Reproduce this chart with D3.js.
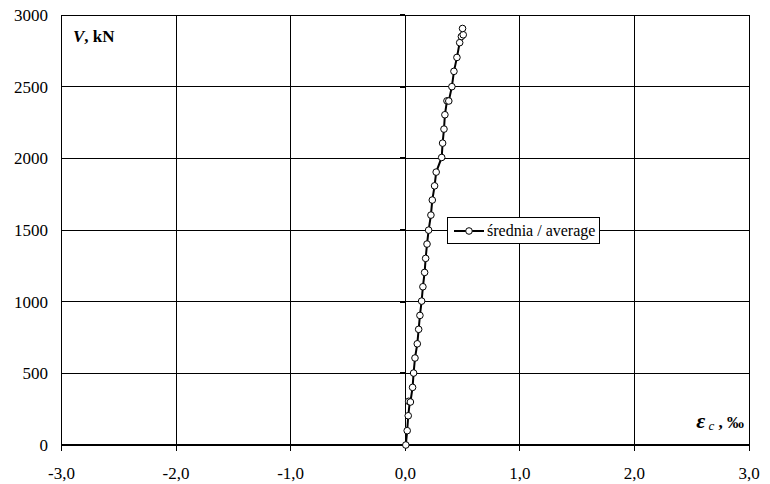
<!DOCTYPE html>
<html><head><meta charset="utf-8">
<script src="https://cdn.jsdelivr.net/npm/d3@7"></script>
<style>body{margin:0;background:#fff}svg{display:block}</style>
</head><body><svg id="c" width="770" height="484" font-family="'Liberation Serif', 'Times New Roman', Times, 'DejaVu Serif', serif"></svg>
<script>
const strain = [0.005,0.017,0.026,0.040,0.030,0.045,0.064,0.073,0.085,0.105,0.117,0.128,0.143,0.154,0.169,0.178,0.190,0.204,0.224,0.236,0.256,0.270,0.318,0.326,0.338,0.346,0.364,0.380,0.407,0.425,0.451,0.475,0.490,0.506,0.500];
const load   = [0,100,204,302,305,300,402,502,607,706,807,904,1004,1104,1204,1302,1402,1499,1604,1709,1808,1904,2006,2106,2204,2304,2401,2400,2500,2607,2704,2807,2850,2862,2906];
const xTicks = [-3,-2,-1,0,1,2,3];
const yTicks = [0,500,1000,1500,2000,2500,3000];
const seriesName = "średnia / average";

const svg = d3.select("#c");
const L=61.5,R=749,T=15,B=445;
const x = d3.scaleLinear().domain([-3,3]).range([L,R]);
const y = d3.scaleLinear().domain([0,3000]).range([B,T]);
const fmt = v => d3.format(".1f")(v).replace(".",",").replace("\u2212","-");

// grid
svg.append("g").selectAll("line").data(xTicks).join("line")
 .attr("x1",d=>x(d)).attr("x2",d=>x(d)).attr("y1",T).attr("y2",B)
 .attr("stroke","#000").attr("stroke-width",1).attr("shape-rendering","crispEdges");
svg.append("g").selectAll("line").data(yTicks).join("line")
 .attr("x1",L).attr("x2",R).attr("y1",d=>y(d)).attr("y2",d=>y(d))
 .attr("stroke","#000").attr("stroke-width",1).attr("shape-rendering","crispEdges");
// bottom axis thicker
svg.append("line").attr("x1",L).attr("x2",R).attr("y1",B).attr("y2",B).attr("stroke","#000").attr("stroke-width",2);
// x ticks
svg.append("g").selectAll("line").data(xTicks).join("line")
 .attr("x1",d=>x(d)).attr("x2",d=>x(d)).attr("y1",B).attr("y2",B+6)
 .attr("stroke","#000").attr("stroke-width",1).attr("shape-rendering","crispEdges");
// y ticks at x=0
svg.append("g").selectAll("line").data(yTicks).join("line")
 .attr("x1",x(0)-5).attr("x2",x(0)).attr("y1",d=>y(d)).attr("y2",d=>y(d))
 .attr("stroke","#000").attr("stroke-width",2).attr("shape-rendering","crispEdges");
// labels
svg.append("g").selectAll("text").data(xTicks).join("text")
 .attr("x",d=>x(d)).attr("y",479).attr("text-anchor","middle").attr("font-size",17).text(fmt);
svg.append("g").selectAll("text").data(yTicks).join("text")
 .attr("x",48).attr("y",d=>y(d)+6).attr("text-anchor","end").attr("font-size",17).text(d=>d);

// axis titles
const vt = svg.append("text").attr("x",73).attr("y",42).attr("font-size",17).attr("font-weight","bold");
vt.append("tspan").attr("font-style","italic").text("V");
vt.append("tspan").text(", kN");
const et = svg.append("text").attr("x",744).attr("y",428).attr("font-size",17).attr("font-weight","bold").attr("text-anchor","end");
et.append("tspan").attr("font-style","italic").attr("font-size",22).text("ε");
et.append("tspan").attr("font-style","italic").attr("font-weight","normal").attr("font-size",13).attr("dy",2).text(" c");
et.append("tspan").attr("dy",-2).text(" , ‰");

// series
const pts = strain.map((s,i)=>[s,load[i]]);
svg.append("path").datum(pts)
 .attr("d",d3.line().x(d=>x(d[0])).y(d=>y(d[1])))
 .attr("fill","none").attr("stroke","#000").attr("stroke-width",2);
svg.append("g").selectAll("circle").data(pts).join("circle")
 .attr("cx",d=>x(d[0])).attr("cy",d=>y(d[1])).attr("r",3.3)
 .attr("fill","#fff").attr("stroke","#000").attr("stroke-width",1);

// legend
const lg = svg.append("g");
lg.append("rect").attr("x",447.5).attr("y",217.5).attr("width",152).attr("height",26)
 .attr("fill","#fff").attr("stroke","#000").attr("stroke-width",1);
lg.append("line").attr("x1",454).attr("x2",484).attr("y1",231).attr("y2",231).attr("stroke","#000").attr("stroke-width",2);
lg.append("circle").attr("cx",469).attr("cy",231).attr("r",3.3).attr("fill","#fff").attr("stroke","#000");
lg.append("text").attr("x",487).attr("y",236).attr("font-size",16).text(seriesName);
</script></body></html>
